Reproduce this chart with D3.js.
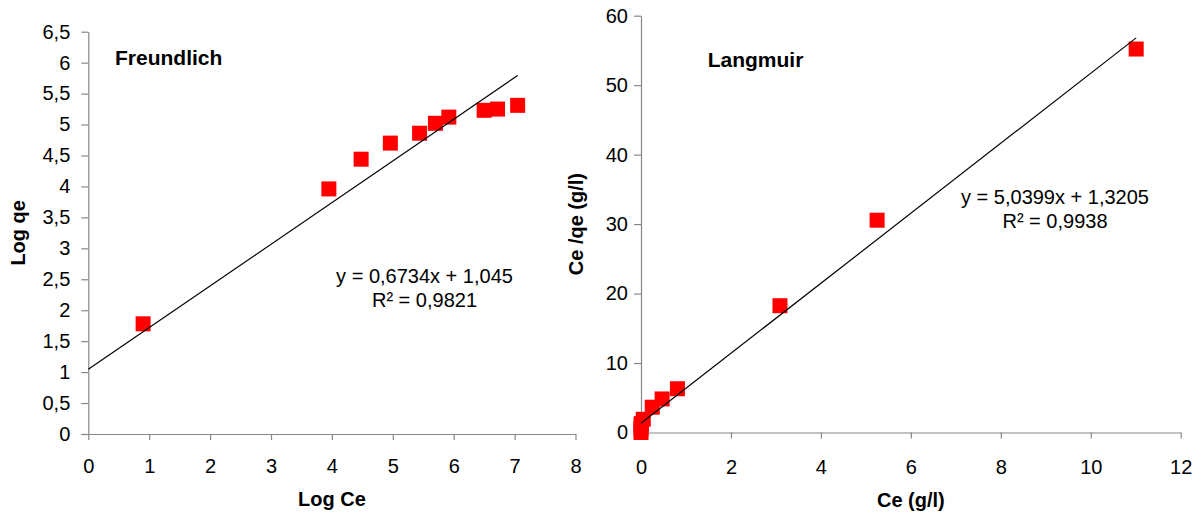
<!DOCTYPE html>
<html>
<head>
<meta charset="utf-8">
<script src="https://cdn.jsdelivr.net/npm/d3@7"></script>
<style>
  html, body { margin: 0; padding: 0; background: #fff; }
  svg { display: block; }
  text { font-family: "Liberation Sans", Arial, sans-serif; fill: #000; }
</style>
</head>
<body>
<svg id="chart" width="1201" height="517"></svg>
<script>
// ---------- Data ----------
// Freundlich (left)
const freundLogCe = [0.90, 3.95, 4.48, 4.96, 5.44, 5.70, 5.92, 6.50, 6.72, 7.05];
const freundLogQe = [1.78, 3.96, 4.44, 4.70, 4.86, 5.02, 5.12, 5.23, 5.25, 5.31];
const freundSlope = 0.6734;
const freundIntercept = 1.045;
const freundEq = "y = 0,6734x + 1,045";
const freundR2 = "R\u00B2 = 0,9821";
const freundXTicks = [0, 1, 2, 3, 4, 5, 6, 7, 8];
const freundYTicks = [0, 0.5, 1, 1.5, 2, 2.5, 3, 3.5, 4, 4.5, 5, 5.5, 6, 6.5];

// Langmuir (right)
const langCe   = [0.00, 0.00, 0.00, 0.01, 0.05, 0.25, 0.47, 0.81, 3.09, 5.25, 11.01];
const langCeQe = [0.00, 0.50, 1.10, 1.30, 1.90, 3.64, 4.83, 6.30, 18.25, 30.56, 55.20];
const langSlope = 5.0399;
const langIntercept = 1.3205;
const langEq = "y = 5,0399x + 1,3205";
const langR2 = "R\u00B2 = 0,9938";
const langXTicks = [0, 2, 4, 6, 8, 10, 12];
const langYTicks = [0, 10, 20, 30, 40, 50, 60];

const fmt = d => String(d).replace(".", ",");

const svg = d3.select("#chart");
const AXIS_COLOR = "#878787";

function drawPanel(cfg) {
  const x = d3.scaleLinear().domain(cfg.xDomain).range(cfg.xRange);
  const y = d3.scaleLinear().domain(cfg.yDomain).range(cfg.yRange);
  const g = svg.append("g");

  // x axis
  const xAxis = d3.axisBottom(x).tickValues(cfg.xTicks).tickFormat(fmt)
    .tickSize(6).tickSizeOuter(0).tickPadding(cfg.xPad);
  const gx = g.append("g").attr("transform", `translate(0,${y(cfg.yDomain[0])})`).call(xAxis);
  // y axis
  const yAxis = d3.axisLeft(y).tickValues(cfg.yTicks).tickFormat(fmt)
    .tickSize(7).tickSizeOuter(0).tickPadding(cfg.yPad);
  const gy = g.append("g").attr("transform", `translate(${x(cfg.xDomain[0])},0)`).call(yAxis);

  [gx, gy].forEach(a => {
    a.select(".domain").attr("stroke", AXIS_COLOR).attr("stroke-width", 1.2);
    a.selectAll(".tick line").attr("stroke", AXIS_COLOR).attr("stroke-width", 1.2);
    a.selectAll(".tick text").attr("font-size", 20)
      .attr("font-family", "'Liberation Sans', Arial, sans-serif").attr("fill", "#111");
  });

  // markers
  const pts = cfg.xs.map((v, i) => [v, cfg.ys[i]]);
  const s = 15;
  g.append("g").selectAll("rect").data(pts).join("rect")
    .attr("x", d => x(d[0]) - s / 2)
    .attr("y", d => y(d[1]) - s / 2)
    .attr("width", s).attr("height", s)
    .attr("fill", "#ff0000");

  // trendline
  const x0 = cfg.xDomain[0], x1 = d3.max(cfg.xs);
  g.append("line")
    .attr("x1", x(x0)).attr("y1", y(cfg.slope * x0 + cfg.intercept))
    .attr("x2", x(x1)).attr("y2", y(cfg.slope * x1 + cfg.intercept))
    .attr("stroke", "#000").attr("stroke-width", 1.2);

  // panel title
  g.append("text").attr("x", cfg.titlePos[0]).attr("y", cfg.titlePos[1])
    .attr("font-size", 21).attr("font-weight", "bold").text(cfg.title);

  // equation
  g.append("text").attr("x", cfg.eqPos[0]).attr("y", cfg.eqPos[1])
    .attr("text-anchor", "middle").attr("font-size", 20).text(cfg.eq);
  g.append("text").attr("x", cfg.eqPos[0]).attr("y", cfg.eqPos[1] + 24)
    .attr("text-anchor", "middle").attr("font-size", 20).text(cfg.r2);

  // axis titles
  const cx = (cfg.xRange[0] + cfg.xRange[1]) / 2;
  g.append("text").attr("x", cx).attr("y", cfg.xTitleY)
    .attr("text-anchor", "middle").attr("font-size", 20).attr("font-weight", "bold")
    .text(cfg.xTitle);
  const cy = (cfg.yRange[0] + cfg.yRange[1]) / 2;
  g.append("text")
    .attr("transform", `translate(${cfg.yTitleX},${cy}) rotate(-90)`)
    .attr("text-anchor", "middle").attr("font-size", 20).attr("font-weight", "bold")
    .text(cfg.yTitle);
}

drawPanel({
  xs: freundLogCe, ys: freundLogQe, slope: freundSlope, intercept: freundIntercept,
  xDomain: [0, 8], yDomain: [0, 6.5], xRange: [88.3, 575.5], yRange: [434, 31.7],
  xTicks: freundXTicks, yTicks: freundYTicks, xPad: 19, yPad: 11,
  title: "Freundlich", titlePos: [115, 65],
  eq: freundEq, r2: freundR2, eqPos: [424.5, 283],
  xTitle: "Log Ce", xTitleY: 506, yTitle: "Log qe", yTitleX: 25
});

drawPanel({
  xs: langCe, ys: langCeQe, slope: langSlope, intercept: langIntercept,
  xDomain: [0, 12], yDomain: [0, 60], xRange: [641, 1180.7], yRange: [432.5, 15.7],
  xTicks: langXTicks, yTicks: langYTicks, xPad: 21.5, yPad: 6,
  title: "Langmuir", titlePos: [707.7, 66.7],
  eq: langEq, r2: langR2, eqPos: [1055, 204],
  xTitle: "Ce (g/l)", xTitleY: 507, yTitle: "Ce /qe (g/l)", yTitleX: 583
});
</script>
</body>
</html>
